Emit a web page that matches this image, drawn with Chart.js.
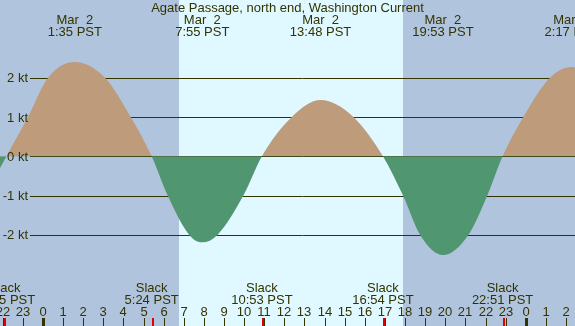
<!DOCTYPE html>
<html><head><meta charset="utf-8">
<script src="https://cdn.jsdelivr.net/npm/chart.js@4"></script>
<style>html,body{margin:0;padding:0;background:#b0c4de;}#c{display:block;}</style>
</head><body>
<canvas id="c" width="575" height="326"></canvas>
<script>
// Data (hours since midnight Mar 2, knots)
const curveHours = [-2.14, -1.82, -0.75, 0.25, 1.583, 3.08, 4.36, 5.40, 6.20, 7.27, 7.917, 8.67, 9.96, 10.883, 12.37, 13.80, 15.43, 16.90, 17.90, 18.75, 19.883, 21.15, 22.09, 22.85, 23.88, 25.21, 26.283, 26.45];
const curveKnots = [-0.30, 0.0, 1.0, 2.0, 2.40, 2.0, 1.0, 0.0, -1.0, -2.0, -2.19, -2.0, -1.0, 0.0, 1.0, 1.43, 1.0, 0.0, -1.0, -2.0, -2.51, -2.0, -1.0, 0.0, 1.0, 2.0, 2.27, 2.26];
const eventHours = [1.583, 7.917, 13.8, 19.883, 26.283];
const eventDates = ['Mar  2', 'Mar  2', 'Mar  2', 'Mar  2', 'Mar  3'];
const eventTimes = ['1:35 PST', '7:55 PST', '13:48 PST', '19:53 PST', '2:17 PST'];
const slackHours = [-1.917, 5.4, 10.883, 16.9, 22.85];
const slackTimes = ['22:05 PST', '5:24 PST', '10:53 PST', '16:54 PST', '22:51 PST'];
const sunrise = 6.76, sunset = 17.9;
const gridKnots = [2, 1, 0, -1, -2];
const gridLabels = ['2 kt', '1 kt', '0 kt', '-1 kt', '-2 kt'];
const hourTicks = [];
for (let h = -2; h <= 26; h++) hourTicks.push(h);
const hourLabels = hourTicks.map(h => String((h + 24) % 24));
const title = 'Agate Passage, north end, Washington Current';

const NIGHT = '#b0c4de', DAY = '#e0f8ff', FLOOD = '#be9b7a', EBB = '#509670', INK = '#333300';
const FONT = '13px "Liberation Sans", Arial, sans-serif';

const deco = {
  id: 'deco',
  beforeDraw(chart) {
    const {ctx, scales: {x, y}, width, height} = chart;
    ctx.save();
    ctx.fillStyle = NIGHT; ctx.fillRect(0, 0, width, height);
    const x0 = Math.round(x.getPixelForValue(sunrise)), x1 = Math.round(x.getPixelForValue(sunset));
    ctx.fillStyle = DAY; ctx.fillRect(x0, 0, x1 - x0, height);
    ctx.strokeStyle = INK; ctx.lineWidth = 1;
    gridKnots.forEach(k => {
      const py = Math.round(y.getPixelForValue(k)) + 0.5;
      ctx.beginPath(); ctx.moveTo(30, py); ctx.lineTo(width, py); ctx.stroke();
    });
    ctx.restore();
  },
  afterDraw(chart) {
    const {ctx, scales: {x, y}, width, height} = chart;
    ctx.save();
    ctx.font = FONT; ctx.fillStyle = INK; ctx.textBaseline = 'middle';
    ctx.textAlign = 'center';
    ctx.fillText(title, width / 2, 8);
    eventHours.forEach((h, i) => {
      const px = x.getPixelForValue(h);
      ctx.fillText(eventDates[i], px, 20);
      ctx.fillText(eventTimes[i], px, 32);
    });
    slackHours.forEach((h, i) => {
      const px = x.getPixelForValue(h);
      ctx.fillText('Slack', px, 288);
      ctx.fillText(slackTimes[i], px, 300);
    });
    hourTicks.forEach((h, i) => {
      const px = Math.round(x.getPixelForValue(h));
      ctx.fillStyle = INK;
      ctx.fillText(hourLabels[i], px, 312);
      if (hourLabels[i] === '0') ctx.fillRect(px - 1, 318, 3, 8);
      else ctx.fillRect(px, 318, 1, 8);
    });
    ctx.fillStyle = '#e00000';
    slackHours.forEach(h => {
      const px = Math.round(x.getPixelForValue(h));
      ctx.fillRect(px, 318, 2, 8);
    });
    ctx.fillStyle = INK; ctx.textAlign = 'right';
    gridKnots.forEach((k, i) => {
      ctx.fillText(gridLabels[i], 28, y.getPixelForValue(k) + 1);
    });
    ctx.restore();
  }
};

new Chart(document.getElementById('c'), {
  type: 'line',
  data: {
    datasets: [{
      data: curveHours.map((h, i) => ({x: h, y: curveKnots[i]})),
      borderWidth: 0, borderColor: 'rgba(0,0,0,0)', pointRadius: 0,
      cubicInterpolationMode: 'monotone',
      fill: {target: {value: 0}, above: FLOOD, below: EBB}
    }]
  },
  options: {
    responsive: false, animation: false, devicePixelRatio: 1,
    layout: {padding: 0},
    plugins: {legend: {display: false}, tooltip: {enabled: false}},
    scales: {
      x: {type: 'linear', min: -2.14, max: 26.45, display: false},
      y: {type: 'linear', min: -4.318, max: 3.975, display: false}
    }
  },
  plugins: [deco]
});
</script>
</body></html>
